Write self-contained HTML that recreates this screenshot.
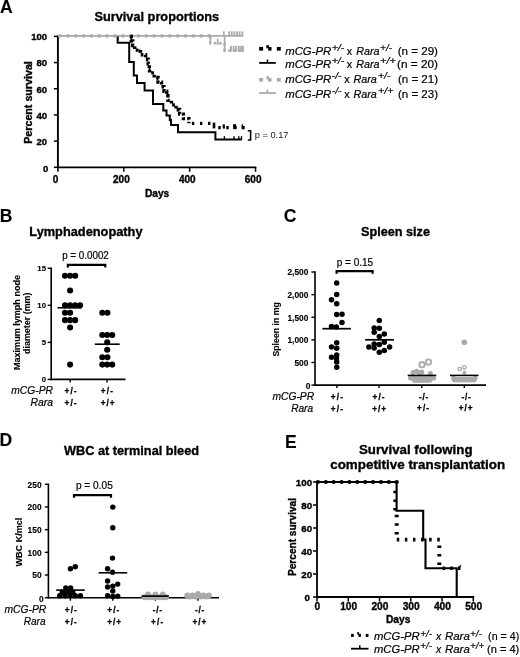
<!DOCTYPE html>
<html><head><meta charset="utf-8"><title>Figure</title>
<style>
html,body{margin:0;padding:0;background:#fff}
svg{display:block}
text{font-family:"Liberation Sans",Arial,sans-serif;fill:#000;stroke:#000;stroke-width:0.2px}
text[font-weight="bold"]{stroke-width:0.35px}
</style></head><body>
<svg width="520" height="657" viewBox="0 0 520 657">
<defs><filter id="soft" x="0" y="0" width="520" height="657" filterUnits="userSpaceOnUse"><feGaussianBlur stdDeviation="0.45"/></filter></defs>
<rect width="520" height="657" fill="#fff"/>
<g filter="url(#soft)">
<text x="0.1" y="12.5" font-size="17.5" font-weight="bold" style="stroke-width:0.1px">A</text>
<text font-size="13.2" x="94.5" y="21.3" font-weight="bold" textLength="124.6" lengthAdjust="spacingAndGlyphs">Survival proportions</text>
<line x1="57.9" y1="35.6" x2="57.9" y2="168.20000000000002" stroke="#000" stroke-width="1.9" />
<line x1="57.0" y1="167.3" x2="256.34000000000003" y2="167.3" stroke="#000" stroke-width="1.8" />
<line x1="53.9" y1="167.3" x2="57.9" y2="167.3" stroke="#000" stroke-width="1.5" />
<text font-size="9.6" x="48.4" y="171.8" font-weight="bold" text-anchor="end">0</text>
<line x1="53.9" y1="141.12" x2="57.9" y2="141.12" stroke="#000" stroke-width="1.5" />
<text font-size="9.6" x="47.2" y="145.02" font-weight="bold" text-anchor="end">20</text>
<line x1="53.9" y1="114.94000000000001" x2="57.9" y2="114.94000000000001" stroke="#000" stroke-width="1.5" />
<text font-size="9.6" x="47.2" y="118.84000000000002" font-weight="bold" text-anchor="end">40</text>
<line x1="53.9" y1="88.76" x2="57.9" y2="88.76" stroke="#000" stroke-width="1.5" />
<text font-size="9.6" x="47.2" y="92.66000000000001" font-weight="bold" text-anchor="end">60</text>
<line x1="53.9" y1="62.58000000000001" x2="57.9" y2="62.58000000000001" stroke="#000" stroke-width="1.5" />
<text font-size="9.6" x="47.2" y="66.48000000000002" font-weight="bold" text-anchor="end">80</text>
<line x1="53.9" y1="36.400000000000006" x2="57.9" y2="36.400000000000006" stroke="#000" stroke-width="1.5" />
<text font-size="9.6" x="47.2" y="40.300000000000004" font-weight="bold" text-anchor="end">100</text>
<line x1="57.9" y1="167.3" x2="57.9" y2="171.8" stroke="#000" stroke-width="1.5" />
<text font-size="10" x="55.5" y="182.6" font-weight="bold" text-anchor="middle">0</text>
<line x1="123.78" y1="167.3" x2="123.78" y2="171.8" stroke="#000" stroke-width="1.5" />
<text font-size="10" x="121.38" y="182.6" font-weight="bold" text-anchor="middle">200</text>
<line x1="189.66000000000003" y1="167.3" x2="189.66000000000003" y2="171.8" stroke="#000" stroke-width="1.5" />
<text font-size="10" x="187.26000000000002" y="182.6" font-weight="bold" text-anchor="middle">400</text>
<line x1="255.54000000000002" y1="167.3" x2="255.54000000000002" y2="171.8" stroke="#000" stroke-width="1.5" />
<text font-size="10" x="253.14000000000001" y="182.6" font-weight="bold" text-anchor="middle">600</text>
<text font-size="10.2" x="144.9" y="196.7" font-weight="bold" textLength="24.4" lengthAdjust="spacingAndGlyphs">Days</text>
<text font-size="10.2" x="32" y="143.8" font-weight="bold" textLength="82.6" lengthAdjust="spacingAndGlyphs" transform="rotate(-90 32 143.8)">Percent survival</text>
<line x1="57.9" y1="35.9" x2="243.3" y2="35.9" stroke="#aaa" stroke-width="1.6" />
<line x1="223.8" y1="35.9" x2="223.8" y2="31.299999999999997" stroke="#aaa" stroke-width="1.8" />
<line x1="229.2" y1="35.9" x2="229.2" y2="31.299999999999997" stroke="#aaa" stroke-width="1.8" />
<line x1="231.8" y1="35.9" x2="231.8" y2="31.299999999999997" stroke="#aaa" stroke-width="1.8" />
<line x1="234.4" y1="35.9" x2="234.4" y2="31.299999999999997" stroke="#aaa" stroke-width="1.8" />
<line x1="237" y1="35.9" x2="237" y2="31.299999999999997" stroke="#aaa" stroke-width="1.8" />
<line x1="239.6" y1="35.9" x2="239.6" y2="31.299999999999997" stroke="#aaa" stroke-width="1.8" />
<line x1="242.4" y1="35.9" x2="242.4" y2="31.299999999999997" stroke="#aaa" stroke-width="1.8" />
<line x1="58.5" y1="35.9" x2="211" y2="35.9" stroke="#aaa" stroke-width="3.1" stroke-dasharray="3 4.85"/>
<path d="M210.3,35.9 L210.3,43.3 L224.6,43.3 L224.6,50.6 L243.2,50.6" fill="none" stroke="#aaa" stroke-width="2.4" stroke-dasharray="2.6 2.8"/>
<line x1="210.3" y1="35.9" x2="210.3" y2="44.2" stroke="#aaa" stroke-width="1.6" />
<line x1="217.7" y1="38.6" x2="217.7" y2="44.8" stroke="#aaa" stroke-width="1.7" />
<line x1="224.6" y1="35.9" x2="224.6" y2="52.2" stroke="#aaa" stroke-width="1.7" />
<line x1="231" y1="51.8" x2="231" y2="45.8" stroke="#aaa" stroke-width="1.8" />
<line x1="233.6" y1="51.8" x2="233.6" y2="45.8" stroke="#aaa" stroke-width="1.8" />
<line x1="236.2" y1="51.8" x2="236.2" y2="45.8" stroke="#aaa" stroke-width="1.8" />
<line x1="238.8" y1="51.8" x2="238.8" y2="45.8" stroke="#aaa" stroke-width="1.8" />
<line x1="241.2" y1="51.8" x2="241.2" y2="45.8" stroke="#aaa" stroke-width="1.8" />
<line x1="243" y1="51.8" x2="243" y2="45.8" stroke="#aaa" stroke-width="1.8" />
<path d="M117.7,36.4 L117.7,42.8 L129.2,42.8 L129.2,62.0 L133.8,62.0 L133.8,75.5 L137.0,75.5 L137.0,83.1 L144.6,83.1 L144.6,90.4 L153.0,90.4 L153.0,104.1 L163.3,104.1 L163.3,110.5 L166.5,110.5 L166.5,115.5 L169.8,115.5 L169.8,120.0 L171.0,120.0 L171.0,125.0 L178.0,125.0 L178.0,132.3 L215.4,132.3 L215.4,139.6 L241.7,139.6" fill="none" stroke="#000" stroke-width="2.0" />
<line x1="224.4" y1="139.6" x2="224.4" y2="136.2" stroke="#000" stroke-width="1.4" />
<line x1="234" y1="139.6" x2="234" y2="136.2" stroke="#000" stroke-width="1.4" />
<line x1="238.8" y1="139.6" x2="238.8" y2="136.2" stroke="#000" stroke-width="1.4" />
<line x1="241.5" y1="139.6" x2="241.5" y2="136.2" stroke="#000" stroke-width="1.4" />
<path d="M130.2,36.4 L131.3,36.4 L131.3,41.0 L132.7,41.0 L132.7,45.5 L134.7,45.5 L134.7,50.1 L140.5,50.1 L140.5,54.7 L145.6,54.7 L145.6,59.2 L148.2,59.2 L148.2,63.8 L149.3,63.8 L149.3,68.4 L149.6,68.4 L149.6,72.9 L154.2,72.9 L154.2,77.5 L158.0,77.5 L158.0,82.1 L161.5,82.1 L161.5,86.7 L164.0,86.7 L164.0,91.2 L166.7,91.2 L166.7,95.8 L167.9,95.8 L167.9,100.4 L171.5,100.4 L171.5,104.9 L176.0,104.9 L176.0,109.5 L179.6,109.5 L179.6,114.1 L183.4,114.1 L183.4,118.6 L188.9,118.6 L188.9,123.2" fill="none" stroke="#000" stroke-width="3.4" stroke-dasharray="2.7 2.1"/>
<line x1="131.2" y1="40" x2="131.2" y2="36.4" stroke="#000" stroke-width="1.8" />
<line x1="139.5" y1="53" x2="139.5" y2="49.4" stroke="#000" stroke-width="1.8" />
<line x1="149.5" y1="70" x2="149.5" y2="66.4" stroke="#000" stroke-width="1.8" />
<line x1="157.5" y1="80.5" x2="157.5" y2="76.9" stroke="#000" stroke-width="1.8" />
<line x1="167.2" y1="96" x2="167.2" y2="92.4" stroke="#000" stroke-width="1.8" />
<line x1="177.5" y1="111.5" x2="177.5" y2="107.9" stroke="#000" stroke-width="1.8" />
<line x1="191.9" y1="123.3" x2="212" y2="123.3" stroke="#000" stroke-width="3.3" stroke-dasharray="2.4 5.65"/>
<line x1="214" y1="122.6" x2="214" y2="128.4" stroke="#000" stroke-width="2.6" />
<line x1="218.3" y1="127.7" x2="246" y2="127.7" stroke="#000" stroke-width="3.3" stroke-dasharray="2.4 5.6"/>
<line x1="223.8" y1="124.4" x2="223.8" y2="128.6" stroke="#000" stroke-width="2.2" />
<line x1="234.6" y1="124.2" x2="234.6" y2="129" stroke="#000" stroke-width="3.0" />
<line x1="242.3" y1="124.4" x2="242.3" y2="129.2" stroke="#000" stroke-width="1.5" />
<path d="M247.8,130.8 H250.6 V140 H247.8" fill="none" stroke="#000" stroke-width="1.6" />
<text x="254.8" y="137.5" font-size="8.4" textLength="33.7" lengthAdjust="spacingAndGlyphs" style="stroke:none;fill:#1a1a1a">p = 0.17</text>
<rect x="259.1" y="46.949999999999996" width="4.0" height="3.7" fill="#000"/>
<rect x="276.8" y="46.949999999999996" width="4.0" height="3.7" fill="#000"/>
<rect x="266.35" y="45.15" width="2.64" height="3.15" fill="#000"/>
<rect x="268.15" y="46.949999999999996" width="3.4" height="3.7" fill="#000"/>
<text font-size="10.4" x="285.2" y="54.5" font-style="italic" textLength="46" lengthAdjust="spacingAndGlyphs">mCG-PR</text>
<text font-size="8.6" x="331.7" y="50.6" font-style="italic" textLength="12.6" lengthAdjust="spacingAndGlyphs">+/-</text>
<text font-size="10.4" x="346.7" y="54.5" textLength="5.4" lengthAdjust="spacingAndGlyphs">x</text>
<text font-size="10.4" x="356.3" y="54.5" font-style="italic" textLength="23.3" lengthAdjust="spacingAndGlyphs">Rara</text>
<text font-size="8.6" x="380.1" y="50.6" font-style="italic" textLength="11.899999999999988" lengthAdjust="spacingAndGlyphs">+/-</text>
<text font-size="10.4" x="397.7" y="54.5" textLength="40.30000000000001" lengthAdjust="spacingAndGlyphs">(n = 29)</text>
<line x1="259.1" y1="62.9" x2="275.8" y2="62.9" stroke="#000" stroke-width="1.8" />
<line x1="267.45000000000005" y1="62.9" x2="267.45000000000005" y2="59.5" stroke="#000" stroke-width="1.5" />
<text font-size="10.4" x="285.2" y="68.1" font-style="italic" textLength="46" lengthAdjust="spacingAndGlyphs">mCG-PR</text>
<text font-size="8.6" x="331.7" y="64.19999999999999" font-style="italic" textLength="12.6" lengthAdjust="spacingAndGlyphs">+/-</text>
<text font-size="10.4" x="346.7" y="68.1" textLength="5.4" lengthAdjust="spacingAndGlyphs">x</text>
<text font-size="10.4" x="356.3" y="68.1" font-style="italic" textLength="23.3" lengthAdjust="spacingAndGlyphs">Rara</text>
<text font-size="8.6" x="380.1" y="64.19999999999999" font-style="italic" textLength="15.7" lengthAdjust="spacingAndGlyphs">+/+</text>
<text font-size="10.4" x="397" y="68.1" textLength="41" lengthAdjust="spacingAndGlyphs">(n = 20)</text>
<rect x="259.1" y="77.95" width="4.0" height="3.7" fill="#aaa"/>
<rect x="276.8" y="77.95" width="4.0" height="3.7" fill="#aaa"/>
<rect x="266.35" y="76.15" width="2.64" height="3.15" fill="#aaa"/>
<rect x="268.15" y="77.95" width="3.4" height="3.7" fill="#aaa"/>
<text font-size="10.4" x="285.2" y="83.1" font-style="italic" textLength="46" lengthAdjust="spacingAndGlyphs">mCG-PR</text>
<text font-size="8.6" x="331.7" y="79.19999999999999" font-style="italic" textLength="9.8" lengthAdjust="spacingAndGlyphs">-/-</text>
<text font-size="10.4" x="344.2" y="83.1" textLength="5.4" lengthAdjust="spacingAndGlyphs">x</text>
<text font-size="10.4" x="353.5" y="83.1" font-style="italic" textLength="23.3" lengthAdjust="spacingAndGlyphs">Rara</text>
<text font-size="8.6" x="378.1" y="79.19999999999999" font-style="italic" textLength="12.299999999999965" lengthAdjust="spacingAndGlyphs">+/-</text>
<text font-size="10.4" x="398" y="83.1" textLength="40" lengthAdjust="spacingAndGlyphs">(n = 21)</text>
<line x1="259.1" y1="93" x2="275.8" y2="93" stroke="#aaa" stroke-width="1.8" />
<line x1="267.45000000000005" y1="93" x2="267.45000000000005" y2="89.6" stroke="#aaa" stroke-width="1.5" />
<text font-size="10.4" x="285.2" y="97.8" font-style="italic" textLength="46" lengthAdjust="spacingAndGlyphs">mCG-PR</text>
<text font-size="8.6" x="331.7" y="93.89999999999999" font-style="italic" textLength="9.8" lengthAdjust="spacingAndGlyphs">-/-</text>
<text font-size="10.4" x="344.2" y="97.8" textLength="5.4" lengthAdjust="spacingAndGlyphs">x</text>
<text font-size="10.4" x="353.5" y="97.8" font-style="italic" textLength="23.3" lengthAdjust="spacingAndGlyphs">Rara</text>
<text font-size="8.6" x="378.1" y="93.89999999999999" font-style="italic" textLength="15.399999999999988" lengthAdjust="spacingAndGlyphs">+/+</text>
<text font-size="10.4" x="398" y="97.8" textLength="40" lengthAdjust="spacingAndGlyphs">(n = 23)</text>
<text x="-0.3" y="221.5" font-size="17.5" font-weight="bold" style="stroke-width:0.1px">B</text>
<text font-size="13.2" x="29.3" y="235.8" font-weight="bold" textLength="113.2" lengthAdjust="spacingAndGlyphs">Lymphadenopathy</text>
<text font-size="10" x="62.2" y="258.5" textLength="46.6" lengthAdjust="spacingAndGlyphs">p = 0.0002</text>
<path d="M67.9,267.4 V264.8 H105.3 V267.4" fill="none" stroke="#000" stroke-width="2.2" />
<line x1="51.2" y1="267.6" x2="51.2" y2="380.2" stroke="#000" stroke-width="1.6" />
<line x1="50.400000000000006" y1="379.4" x2="125.5" y2="379.4" stroke="#000" stroke-width="1.6" />
<line x1="47.6" y1="379.4" x2="51.2" y2="379.4" stroke="#000" stroke-width="1.4" />
<text font-size="7.8" x="46" y="382.2" font-weight="bold" text-anchor="end" style="stroke-width:0.12px">0</text>
<line x1="47.6" y1="342.3666666666667" x2="51.2" y2="342.3666666666667" stroke="#000" stroke-width="1.4" />
<text font-size="7.8" x="46" y="345.1666666666667" font-weight="bold" text-anchor="end" style="stroke-width:0.12px">5</text>
<line x1="47.6" y1="305.33333333333337" x2="51.2" y2="305.33333333333337" stroke="#000" stroke-width="1.4" />
<text font-size="7.8" x="46" y="308.1333333333334" font-weight="bold" text-anchor="end" style="stroke-width:0.12px">10</text>
<line x1="47.6" y1="268.3" x2="51.2" y2="268.3" stroke="#000" stroke-width="1.4" />
<text font-size="7.8" x="46" y="271.1" font-weight="bold" text-anchor="end" style="stroke-width:0.12px">15</text>
<line x1="70.2" y1="379.4" x2="70.2" y2="382.4" stroke="#000" stroke-width="1.4" />
<line x1="107" y1="379.4" x2="107" y2="382.4" stroke="#000" stroke-width="1.4" />
<text font-size="8.4" x="19.8" y="370" font-weight="bold" textLength="95" lengthAdjust="spacingAndGlyphs" style="stroke-width:0.12px" transform="rotate(-90 19.8 370)">Maximum lymph node</text>
<text font-size="8.4" x="29.8" y="354" font-weight="bold" textLength="61.5" lengthAdjust="spacingAndGlyphs" style="stroke-width:0.12px" transform="rotate(-90 29.8 354)">diameter (mm)</text>
<circle cx="65" cy="275.70666666666665" r="3.05" fill="#000"/>
<circle cx="70.1" cy="275.70666666666665" r="3.05" fill="#000"/>
<circle cx="75.2" cy="275.70666666666665" r="3.05" fill="#000"/>
<circle cx="70.1" cy="290.52" r="3.05" fill="#000"/>
<circle cx="65" cy="305.33333333333337" r="3.05" fill="#000"/>
<circle cx="70.1" cy="305.33333333333337" r="3.05" fill="#000"/>
<circle cx="75.2" cy="305.33333333333337" r="3.05" fill="#000"/>
<circle cx="80.1" cy="305.33333333333337" r="3.05" fill="#000"/>
<circle cx="65" cy="312.74" r="3.05" fill="#000"/>
<circle cx="70.1" cy="312.74" r="3.05" fill="#000"/>
<circle cx="65" cy="320.14666666666665" r="3.05" fill="#000"/>
<circle cx="70.1" cy="320.14666666666665" r="3.05" fill="#000"/>
<circle cx="75.2" cy="320.14666666666665" r="3.05" fill="#000"/>
<circle cx="70.1" cy="327.55333333333334" r="3.05" fill="#000"/>
<circle cx="70.1" cy="364.58666666666664" r="3.05" fill="#000"/>
<line x1="57.5" y1="307.8" x2="81.5" y2="307.8" stroke="#000" stroke-width="1.6" />
<circle cx="102.3" cy="312.74" r="3.05" fill="#000"/>
<circle cx="107.4" cy="312.74" r="3.05" fill="#000"/>
<circle cx="102.3" cy="334.96" r="3.05" fill="#000"/>
<circle cx="107.2" cy="334.96" r="3.05" fill="#000"/>
<circle cx="112.2" cy="334.96" r="3.05" fill="#000"/>
<circle cx="107.2" cy="342.3666666666667" r="3.05" fill="#000"/>
<circle cx="107.2" cy="349.7733333333333" r="3.05" fill="#000"/>
<circle cx="102.3" cy="357.18" r="3.05" fill="#000"/>
<circle cx="107.4" cy="357.18" r="3.05" fill="#000"/>
<circle cx="102.3" cy="364.58666666666664" r="3.05" fill="#000"/>
<circle cx="107.2" cy="364.58666666666664" r="3.05" fill="#000"/>
<circle cx="112.2" cy="364.58666666666664" r="3.05" fill="#000"/>
<line x1="94.8" y1="344.2" x2="119.7" y2="344.2" stroke="#000" stroke-width="1.6" />
<text font-size="10.2" x="11.3" y="394.3" font-style="italic" textLength="41.7" lengthAdjust="spacingAndGlyphs">mCG-PR</text>
<text font-size="10.2" x="30.5" y="406" font-style="italic" textLength="22.5" lengthAdjust="spacingAndGlyphs">Rara</text>
<text font-size="8.2" x="64.4" y="394" font-weight="bold" textLength="12.2" lengthAdjust="spacing" style="stroke-width:0.3px">+/-</text>
<text font-size="8.2" x="64.4" y="405.8" font-weight="bold" textLength="12.2" lengthAdjust="spacing" style="stroke-width:0.3px">+/-</text>
<text font-size="8.2" x="100.8" y="394" font-weight="bold" textLength="12.2" lengthAdjust="spacing" style="stroke-width:0.3px">+/-</text>
<text font-size="8.2" x="100.7" y="405.8" font-weight="bold" textLength="13.8" lengthAdjust="spacing" style="stroke-width:0.3px">+/+</text>
<text x="283.7" y="221.9" font-size="17.5" font-weight="bold" style="stroke-width:0.1px">C</text>
<text font-size="13.2" x="361" y="236" font-weight="bold" textLength="69" lengthAdjust="spacingAndGlyphs">Spleen size</text>
<text font-size="10" x="336.8" y="265.8" textLength="36.3" lengthAdjust="spacingAndGlyphs">p = 0.15</text>
<path d="M336.6,273.8 V271.2 H372.6 V273.8" fill="none" stroke="#000" stroke-width="2.2" />
<line x1="315" y1="271.3" x2="315" y2="385.90000000000003" stroke="#000" stroke-width="1.6" />
<line x1="314.2" y1="385.1" x2="486" y2="385.1" stroke="#000" stroke-width="1.6" />
<line x1="311.4" y1="385.1" x2="315" y2="385.1" stroke="#000" stroke-width="1.4" />
<text font-size="8.4" x="310.4" y="388.90000000000003" font-weight="bold" text-anchor="end" style="stroke-width:0.12px">0</text>
<line x1="311.4" y1="362.48" x2="315" y2="362.48" stroke="#000" stroke-width="1.4" />
<text font-size="8.4" x="308.4" y="365.88" font-weight="bold" text-anchor="end" style="stroke-width:0.12px">500</text>
<line x1="311.4" y1="339.86" x2="315" y2="339.86" stroke="#000" stroke-width="1.4" />
<text font-size="8.4" x="308.4" y="343.26" font-weight="bold" text-anchor="end" style="stroke-width:0.12px">1,000</text>
<line x1="311.4" y1="317.24" x2="315" y2="317.24" stroke="#000" stroke-width="1.4" />
<text font-size="8.4" x="308.4" y="320.64" font-weight="bold" text-anchor="end" style="stroke-width:0.12px">1,500</text>
<line x1="311.4" y1="294.62" x2="315" y2="294.62" stroke="#000" stroke-width="1.4" />
<text font-size="8.4" x="308.4" y="298.02" font-weight="bold" text-anchor="end" style="stroke-width:0.12px">2,000</text>
<line x1="311.4" y1="272.0" x2="315" y2="272.0" stroke="#000" stroke-width="1.4" />
<text font-size="8.4" x="308.4" y="275.4" font-weight="bold" text-anchor="end" style="stroke-width:0.12px">2,500</text>
<line x1="336.9" y1="385.1" x2="336.9" y2="388.1" stroke="#000" stroke-width="1.4" />
<line x1="379" y1="385.1" x2="379" y2="388.1" stroke="#000" stroke-width="1.4" />
<line x1="421.8" y1="385.1" x2="421.8" y2="388.1" stroke="#000" stroke-width="1.4" />
<line x1="464.3" y1="385.1" x2="464.3" y2="388.1" stroke="#000" stroke-width="1.4" />
<text font-size="8.7" x="279.2" y="356.6" font-weight="bold" textLength="54.5" lengthAdjust="spacingAndGlyphs" style="stroke-width:0.12px" transform="rotate(-90 279.2 356.6)">Spleen in mg</text>
<circle cx="336.7" cy="282.9" r="2.75" fill="#000"/>
<circle cx="336.7" cy="294.5" r="2.75" fill="#000"/>
<circle cx="331.5" cy="299.7" r="2.75" fill="#000"/>
<circle cx="336.7" cy="303.7" r="2.75" fill="#000"/>
<circle cx="336.7" cy="314.6" r="2.75" fill="#000"/>
<circle cx="342" cy="314.3" r="2.75" fill="#000"/>
<circle cx="342" cy="322.6" r="2.75" fill="#000"/>
<circle cx="331.5" cy="326.5" r="2.75" fill="#000"/>
<circle cx="336.4" cy="327.1" r="2.75" fill="#000"/>
<circle cx="336.7" cy="342.8" r="2.75" fill="#000"/>
<circle cx="331.5" cy="347" r="2.75" fill="#000"/>
<circle cx="336.7" cy="348.2" r="2.75" fill="#000"/>
<circle cx="336.7" cy="355" r="2.75" fill="#000"/>
<circle cx="331.5" cy="357.3" r="2.75" fill="#000"/>
<circle cx="336.4" cy="358.3" r="2.75" fill="#000"/>
<circle cx="336.7" cy="361.9" r="2.75" fill="#000"/>
<circle cx="336.7" cy="367.2" r="2.75" fill="#000"/>
<line x1="322.4" y1="328.7" x2="350.9" y2="328.7" stroke="#000" stroke-width="1.7" />
<circle cx="379.3" cy="320.4" r="2.75" fill="#000"/>
<circle cx="374.2" cy="328.1" r="2.75" fill="#000"/>
<circle cx="379.3" cy="328.3" r="2.75" fill="#000"/>
<circle cx="374.2" cy="332.3" r="2.75" fill="#000"/>
<circle cx="384.3" cy="334" r="2.75" fill="#000"/>
<circle cx="379.3" cy="336.4" r="2.75" fill="#000"/>
<circle cx="384.3" cy="342.2" r="2.75" fill="#000"/>
<circle cx="374.2" cy="344.1" r="2.75" fill="#000"/>
<circle cx="379.3" cy="344.4" r="2.75" fill="#000"/>
<circle cx="368.9" cy="347" r="2.75" fill="#000"/>
<circle cx="374.2" cy="348" r="2.75" fill="#000"/>
<circle cx="389.6" cy="347" r="2.75" fill="#000"/>
<circle cx="384.3" cy="350.4" r="2.75" fill="#000"/>
<circle cx="379.3" cy="352.3" r="2.75" fill="#000"/>
<line x1="365.1" y1="339.8" x2="393.9" y2="339.8" stroke="#000" stroke-width="1.7" />
<circle cx="410.6" cy="378" r="2.6" fill="#aaa"/>
<circle cx="413.6" cy="378" r="2.6" fill="#aaa"/>
<circle cx="416.6" cy="378" r="2.6" fill="#aaa"/>
<circle cx="419.6" cy="378" r="2.6" fill="#aaa"/>
<circle cx="422.6" cy="378" r="2.6" fill="#aaa"/>
<circle cx="425.6" cy="378" r="2.6" fill="#aaa"/>
<circle cx="428.6" cy="378" r="2.6" fill="#aaa"/>
<circle cx="431.6" cy="378" r="2.6" fill="#aaa"/>
<circle cx="433.6" cy="378" r="2.6" fill="#aaa"/>
<circle cx="414.5" cy="380.3" r="2.6" fill="#aaa"/>
<circle cx="417.5" cy="380.3" r="2.6" fill="#aaa"/>
<circle cx="420.5" cy="380.3" r="2.6" fill="#aaa"/>
<circle cx="423.5" cy="380.3" r="2.6" fill="#aaa"/>
<circle cx="426.5" cy="380.3" r="2.6" fill="#aaa"/>
<circle cx="429.5" cy="380.3" r="2.6" fill="#aaa"/>
<circle cx="413" cy="372.6" r="2.5" fill="#aaa"/>
<circle cx="416.4" cy="371.2" r="2.5" fill="#aaa"/>
<circle cx="419" cy="372.5" r="2.5" fill="#aaa"/>
<circle cx="421.8" cy="372" r="2.5" fill="#aaa"/>
<circle cx="430.3" cy="373.6" r="2.5" fill="#aaa"/>
<circle cx="422" cy="364.7" r="2.7" fill="none" stroke="#aaa" stroke-width="1.8"/>
<circle cx="428.5" cy="362.1" r="2.7" fill="none" stroke="#aaa" stroke-width="1.8"/>
<circle cx="454.6" cy="379.6" r="2.9" fill="#aaa"/>
<circle cx="457.8" cy="379.6" r="2.9" fill="#aaa"/>
<circle cx="461" cy="379.6" r="2.9" fill="#aaa"/>
<circle cx="464.2" cy="379.6" r="2.9" fill="#aaa"/>
<circle cx="467.4" cy="379.6" r="2.9" fill="#aaa"/>
<circle cx="470.6" cy="379.6" r="2.9" fill="#aaa"/>
<circle cx="473.8" cy="379.6" r="2.9" fill="#aaa"/>
<circle cx="453.5" cy="378.2" r="2.4" fill="#aaa"/>
<circle cx="475.2" cy="378.2" r="2.4" fill="#aaa"/>
<circle cx="464.3" cy="342.2" r="2.8" fill="#aaa"/>
<circle cx="459.7" cy="369" r="1.7" fill="none" stroke="#aaa" stroke-width="1.3"/>
<circle cx="464.4" cy="367.3" r="1.7" fill="none" stroke="#aaa" stroke-width="1.3"/>
<circle cx="464.4" cy="372.6" r="1.9" fill="#aaa"/>
<line x1="407.7" y1="375.4" x2="436.2" y2="375.4" stroke="#000" stroke-width="1.6" />
<line x1="450" y1="375.4" x2="478.5" y2="375.4" stroke="#000" stroke-width="1.6" />
<text font-size="10.2" x="272.4" y="400.2" font-style="italic" textLength="41.8" lengthAdjust="spacingAndGlyphs">mCG-PR</text>
<text font-size="10.2" x="291.2" y="412.3" font-style="italic" textLength="21.8" lengthAdjust="spacingAndGlyphs">Rara</text>
<text font-size="8.2" x="330.8" y="400.2" font-weight="bold" textLength="12.2" lengthAdjust="spacing" style="stroke-width:0.3px">+/-</text>
<text font-size="8.2" x="330.8" y="411.6" font-weight="bold" textLength="12.2" lengthAdjust="spacing" style="stroke-width:0.3px">+/-</text>
<text font-size="8.2" x="372.4" y="400.2" font-weight="bold" textLength="12.2" lengthAdjust="spacing" style="stroke-width:0.3px">+/-</text>
<text font-size="8.2" x="372.3" y="411.6" font-weight="bold" textLength="13.8" lengthAdjust="spacing" style="stroke-width:0.3px">+/+</text>
<text font-size="8.2" x="419.1" y="399.8" font-weight="bold" textLength="9.2" lengthAdjust="spacing" style="stroke-width:0.3px">-/-</text>
<text font-size="8.2" x="416.9" y="411.2" font-weight="bold" textLength="12.2" lengthAdjust="spacing" style="stroke-width:0.3px">+/-</text>
<text font-size="8.2" x="461.5" y="399.8" font-weight="bold" textLength="9.2" lengthAdjust="spacing" style="stroke-width:0.3px">-/-</text>
<text font-size="8.2" x="458.8" y="411.2" font-weight="bold" textLength="13.8" lengthAdjust="spacing" style="stroke-width:0.3px">+/+</text>
<text x="-0.6" y="446.2" font-size="17.5" font-weight="bold" style="stroke-width:0.1px">D</text>
<text font-size="13.2" x="64" y="455" font-weight="bold" textLength="135" lengthAdjust="spacingAndGlyphs">WBC at terminal bleed</text>
<text font-size="10" x="75.9" y="488.8" textLength="36.9" lengthAdjust="spacingAndGlyphs">p = 0.05</text>
<path d="M74,497.8 V495.1 H111 V497.8" fill="none" stroke="#000" stroke-width="2.2" />
<line x1="48.4" y1="483.6" x2="48.4" y2="598.5" stroke="#000" stroke-width="1.6" />
<line x1="47.6" y1="597.7" x2="219" y2="597.7" stroke="#000" stroke-width="1.6" />
<line x1="44.8" y1="597.7" x2="48.4" y2="597.7" stroke="#000" stroke-width="1.4" />
<text font-size="8.4" x="43.7" y="601.5" font-weight="bold" text-anchor="end" style="stroke-width:0.12px">0</text>
<line x1="44.8" y1="575.02" x2="48.4" y2="575.02" stroke="#000" stroke-width="1.4" />
<text font-size="8.4" x="41.6" y="578.42" font-weight="bold" text-anchor="end" style="stroke-width:0.12px">50</text>
<line x1="44.8" y1="552.34" x2="48.4" y2="552.34" stroke="#000" stroke-width="1.4" />
<text font-size="8.4" x="41.6" y="555.74" font-weight="bold" text-anchor="end" style="stroke-width:0.12px">100</text>
<line x1="44.8" y1="529.6600000000001" x2="48.4" y2="529.6600000000001" stroke="#000" stroke-width="1.4" />
<text font-size="8.4" x="41.6" y="533.0600000000001" font-weight="bold" text-anchor="end" style="stroke-width:0.12px">150</text>
<line x1="44.8" y1="506.98" x2="48.4" y2="506.98" stroke="#000" stroke-width="1.4" />
<text font-size="8.4" x="41.6" y="510.38" font-weight="bold" text-anchor="end" style="stroke-width:0.12px">200</text>
<line x1="44.8" y1="484.3" x2="48.4" y2="484.3" stroke="#000" stroke-width="1.4" />
<text font-size="8.4" x="41.6" y="487.7" font-weight="bold" text-anchor="end" style="stroke-width:0.12px">250</text>
<line x1="70.4" y1="597.7" x2="70.4" y2="600.7" stroke="#000" stroke-width="1.4" />
<line x1="112.8" y1="597.7" x2="112.8" y2="600.7" stroke="#000" stroke-width="1.4" />
<line x1="155.4" y1="597.7" x2="155.4" y2="600.7" stroke="#000" stroke-width="1.4" />
<line x1="198" y1="597.7" x2="198" y2="600.7" stroke="#000" stroke-width="1.4" />
<text font-size="8.7" x="21.8" y="566.6" font-weight="bold" textLength="49" lengthAdjust="spacingAndGlyphs" style="stroke-width:0.12px" transform="rotate(-90 21.8 566.6)">WBC K/mcl</text>
<circle cx="70.4" cy="568.8" r="2.7" fill="#000"/>
<circle cx="75.3" cy="566.8" r="2.7" fill="#000"/>
<circle cx="59.7" cy="595.7" r="2.7" fill="#000"/>
<circle cx="64.9" cy="595.7" r="2.7" fill="#000"/>
<circle cx="70.1" cy="595.7" r="2.7" fill="#000"/>
<circle cx="75.3" cy="595.7" r="2.7" fill="#000"/>
<circle cx="80.5" cy="595.7" r="2.7" fill="#000"/>
<circle cx="62.3" cy="592.2" r="2.7" fill="#000"/>
<circle cx="67.5" cy="592.2" r="2.7" fill="#000"/>
<circle cx="72.7" cy="592.2" r="2.7" fill="#000"/>
<circle cx="65.8" cy="587.9" r="2.7" fill="#000"/>
<circle cx="70.6" cy="587.9" r="2.7" fill="#000"/>
<line x1="56.2" y1="590.1" x2="84.8" y2="590.1" stroke="#000" stroke-width="1.6" />
<circle cx="112.8" cy="507.1" r="2.7" fill="#000"/>
<circle cx="112.8" cy="527.8" r="2.7" fill="#000"/>
<circle cx="112.5" cy="558.1" r="2.7" fill="#000"/>
<circle cx="107.6" cy="568.8" r="2.7" fill="#000"/>
<circle cx="112.5" cy="572.3" r="2.7" fill="#000"/>
<circle cx="107.6" cy="581" r="2.7" fill="#000"/>
<circle cx="117.7" cy="584.1" r="2.7" fill="#000"/>
<circle cx="107.6" cy="587" r="2.7" fill="#000"/>
<circle cx="112.8" cy="586.1" r="2.7" fill="#000"/>
<circle cx="112.8" cy="591" r="2.7" fill="#000"/>
<circle cx="107.6" cy="595.7" r="2.7" fill="#000"/>
<circle cx="112.8" cy="596.5" r="2.7" fill="#000"/>
<circle cx="117.7" cy="596.2" r="2.7" fill="#000"/>
<line x1="98.6" y1="572.8" x2="127.2" y2="572.8" stroke="#000" stroke-width="1.6" />
<circle cx="144.6" cy="597.2" r="3.0" fill="#aaa"/>
<circle cx="148.2" cy="597.2" r="3.0" fill="#aaa"/>
<circle cx="151.8" cy="597.2" r="3.0" fill="#aaa"/>
<circle cx="155.4" cy="597.2" r="3.0" fill="#aaa"/>
<circle cx="159" cy="597.2" r="3.0" fill="#aaa"/>
<circle cx="162.6" cy="597.2" r="3.0" fill="#aaa"/>
<circle cx="166" cy="597.2" r="3.0" fill="#aaa"/>
<circle cx="148" cy="594.3" r="2.9" fill="#aaa"/>
<circle cx="155.4" cy="594.3" r="2.9" fill="#aaa"/>
<circle cx="162.8" cy="594.3" r="2.9" fill="#aaa"/>
<line x1="141.6" y1="596.1" x2="168.8" y2="596.1" stroke="#000" stroke-width="1.7" />
<circle cx="187.3" cy="595.6" r="3.0" fill="#aaa"/>
<circle cx="190" cy="596.5" r="3.0" fill="#aaa"/>
<circle cx="192.7" cy="595.6" r="3.0" fill="#aaa"/>
<circle cx="195.4" cy="596.5" r="3.0" fill="#aaa"/>
<circle cx="198.1" cy="595.6" r="3.0" fill="#aaa"/>
<circle cx="200.8" cy="596.5" r="3.0" fill="#aaa"/>
<circle cx="203.5" cy="595.6" r="3.0" fill="#aaa"/>
<circle cx="206.2" cy="596.5" r="3.0" fill="#aaa"/>
<circle cx="208.9" cy="595.6" r="3.0" fill="#aaa"/>
<circle cx="198" cy="593.7" r="2.8" fill="#aaa"/>
<text font-size="10.2" x="4.5" y="612.6" font-style="italic" textLength="41.8" lengthAdjust="spacingAndGlyphs">mCG-PR</text>
<text font-size="10.2" x="23.8" y="624.5" font-style="italic" textLength="21.7" lengthAdjust="spacingAndGlyphs">Rara</text>
<text font-size="8.2" x="64.65" y="612.7" font-weight="bold" textLength="12.2" lengthAdjust="spacing" style="stroke-width:0.3px">+/-</text>
<text font-size="8.2" x="64.65" y="624.8" font-weight="bold" textLength="12.2" lengthAdjust="spacing" style="stroke-width:0.3px">+/-</text>
<text font-size="8.2" x="107.15" y="612.7" font-weight="bold" textLength="12.2" lengthAdjust="spacing" style="stroke-width:0.3px">+/-</text>
<text font-size="8.2" x="107.2" y="624.8" font-weight="bold" textLength="13.8" lengthAdjust="spacing" style="stroke-width:0.3px">+/+</text>
<text font-size="8.2" x="152.7" y="612.9" font-weight="bold" textLength="9.2" lengthAdjust="spacing" style="stroke-width:0.3px">-/-</text>
<text font-size="8.2" x="151.1" y="624.6" font-weight="bold" textLength="12.2" lengthAdjust="spacing" style="stroke-width:0.3px">+/-</text>
<text font-size="8.2" x="195.0" y="612.9" font-weight="bold" textLength="9.2" lengthAdjust="spacing" style="stroke-width:0.3px">-/-</text>
<text font-size="8.2" x="192.4" y="624.6" font-weight="bold" textLength="13.8" lengthAdjust="spacing" style="stroke-width:0.3px">+/+</text>
<text x="285" y="447.6" font-size="17.5" font-weight="bold" style="stroke-width:0.1px">E</text>
<text font-size="13.2" x="359" y="453.9" font-weight="bold" textLength="113.5" lengthAdjust="spacingAndGlyphs">Survival following</text>
<text font-size="13.2" x="330.2" y="468.9" font-weight="bold" textLength="175" lengthAdjust="spacingAndGlyphs">competitive transplantation</text>
<line x1="317" y1="481.2" x2="317" y2="597.9" stroke="#000" stroke-width="1.8" />
<line x1="316.1" y1="597" x2="474.09999999999997" y2="597" stroke="#000" stroke-width="1.8" />
<line x1="313" y1="597.0" x2="317" y2="597.0" stroke="#000" stroke-width="1.5" />
<text font-size="9.8" x="309.9" y="600.6" font-weight="bold" text-anchor="end">0</text>
<line x1="313" y1="574.0" x2="317" y2="574.0" stroke="#000" stroke-width="1.5" />
<text font-size="9.8" x="312.1" y="577.6" font-weight="bold" text-anchor="end">20</text>
<line x1="313" y1="551.0" x2="317" y2="551.0" stroke="#000" stroke-width="1.5" />
<text font-size="9.8" x="312.1" y="554.6" font-weight="bold" text-anchor="end">40</text>
<line x1="313" y1="528.0" x2="317" y2="528.0" stroke="#000" stroke-width="1.5" />
<text font-size="9.8" x="312.1" y="531.6" font-weight="bold" text-anchor="end">60</text>
<line x1="313" y1="505.0" x2="317" y2="505.0" stroke="#000" stroke-width="1.5" />
<text font-size="9.8" x="312.1" y="508.6" font-weight="bold" text-anchor="end">80</text>
<line x1="313" y1="482.0" x2="317" y2="482.0" stroke="#000" stroke-width="1.5" />
<text font-size="9.8" x="312.1" y="485.6" font-weight="bold" text-anchor="end">100</text>
<line x1="317.0" y1="597" x2="317.0" y2="601.5" stroke="#000" stroke-width="1.5" />
<text font-size="10.2" x="317.4" y="610.4" font-weight="bold" text-anchor="middle">0</text>
<line x1="348.26" y1="597" x2="348.26" y2="601.5" stroke="#000" stroke-width="1.5" />
<text font-size="10.2" x="348.65999999999997" y="610.4" font-weight="bold" text-anchor="middle">100</text>
<line x1="379.52" y1="597" x2="379.52" y2="601.5" stroke="#000" stroke-width="1.5" />
<text font-size="10.2" x="379.91999999999996" y="610.4" font-weight="bold" text-anchor="middle">200</text>
<line x1="410.78" y1="597" x2="410.78" y2="601.5" stroke="#000" stroke-width="1.5" />
<text font-size="10.2" x="411.17999999999995" y="610.4" font-weight="bold" text-anchor="middle">300</text>
<line x1="442.03999999999996" y1="597" x2="442.03999999999996" y2="601.5" stroke="#000" stroke-width="1.5" />
<text font-size="10.2" x="442.43999999999994" y="610.4" font-weight="bold" text-anchor="middle">400</text>
<line x1="473.29999999999995" y1="597" x2="473.29999999999995" y2="601.5" stroke="#000" stroke-width="1.5" />
<text font-size="10.2" x="473.69999999999993" y="610.4" font-weight="bold" text-anchor="middle">500</text>
<text font-size="10.2" x="386" y="622.9" font-weight="bold" textLength="24.4" lengthAdjust="spacingAndGlyphs">Days</text>
<text font-size="10" x="295.8" y="576" font-weight="bold" textLength="78" lengthAdjust="spacingAndGlyphs" transform="rotate(-90 295.8 576)">Percent survival</text>
<path d="M317.0,482.0 L396.6,482.0 L396.6,510.8 L423.2,510.8 L423.2,539.5 L425.5,539.5 L425.5,568.2 L456.7,568.2 L456.7,597.0" fill="none" stroke="#000" stroke-width="2.1" />
<line x1="317.93" y1="482" x2="397.5" y2="482" stroke="#000" stroke-width="4.2" stroke-dasharray="0.01 7.87" stroke-linecap="round"/>
<line x1="395.2" y1="490.85" x2="395.2" y2="511" stroke="#000" stroke-width="3.8" stroke-dasharray="2.5 6.1"/>
<line x1="396.7" y1="514.75" x2="396.7" y2="535" stroke="#000" stroke-width="4.0" stroke-dasharray="2.5 6.1"/>
<line x1="396.75" y1="539.6" x2="440" y2="539.6" stroke="#000" stroke-width="3.8" stroke-dasharray="2.5 5.6"/>
<line x1="439.3" y1="545.45" x2="439.3" y2="565.5" stroke="#000" stroke-width="4.0" stroke-dasharray="2.5 6.0"/>
<line x1="442.55" y1="568.3" x2="460.6" y2="568.3" stroke="#000" stroke-width="3.6" stroke-dasharray="2.5 5.2"/>
<line x1="458.6" y1="568.1" x2="460.8" y2="565.4" stroke="#000" stroke-width="1.5" />
<rect x="351" y="633.9" width="2.8" height="3.0" fill="#000"/>
<rect x="365.7" y="633.9" width="2.8" height="3.0" fill="#000"/>
<rect x="357.23" y="632.1" width="1.85" height="2.55" fill="#000"/>
<rect x="358.49" y="633.9" width="2.38" height="3.0" fill="#000"/>
<text font-size="10.6" x="374" y="640.4" font-style="italic" textLength="45.6" lengthAdjust="spacingAndGlyphs">mCG-PR</text>
<text font-size="8.6" x="420.2" y="636.5" font-style="italic" textLength="11.8" lengthAdjust="spacingAndGlyphs">+/-</text>
<text font-size="10.6" x="435.9" y="640.4" font-style="italic" textLength="5.2" lengthAdjust="spacingAndGlyphs">x</text>
<text font-size="10.6" x="444.9" y="640.4" font-style="italic" textLength="24.9" lengthAdjust="spacingAndGlyphs">Rara</text>
<text font-size="8.6" x="470" y="636.5" font-style="italic" textLength="11.899999999999977" lengthAdjust="spacingAndGlyphs">+/-</text>
<text font-size="10.6" x="488.1" y="640.4" textLength="31.199999999999932" lengthAdjust="spacingAndGlyphs">(n = 4)</text>
<line x1="351" y1="648.7" x2="368.5" y2="648.7" stroke="#000" stroke-width="1.8" />
<line x1="359.75" y1="648.7" x2="359.75" y2="645.3000000000001" stroke="#000" stroke-width="1.5" />
<text font-size="10.6" x="374" y="653.1" font-style="italic" textLength="45.6" lengthAdjust="spacingAndGlyphs">mCG-PR</text>
<text font-size="8.6" x="420.2" y="649.2" font-style="italic" textLength="11.8" lengthAdjust="spacingAndGlyphs">+/-</text>
<text font-size="10.6" x="435.9" y="653.1" font-style="italic" textLength="5.2" lengthAdjust="spacingAndGlyphs">x</text>
<text font-size="10.6" x="444.9" y="653.1" font-style="italic" textLength="24.9" lengthAdjust="spacingAndGlyphs">Rara</text>
<text font-size="8.6" x="470" y="649.2" font-style="italic" textLength="14.300000000000011" lengthAdjust="spacingAndGlyphs">+/+</text>
<text font-size="10.6" x="487.1" y="653.1" textLength="32.19999999999993" lengthAdjust="spacingAndGlyphs">(n = 4)</text>
</g>
</svg>
</body></html>
